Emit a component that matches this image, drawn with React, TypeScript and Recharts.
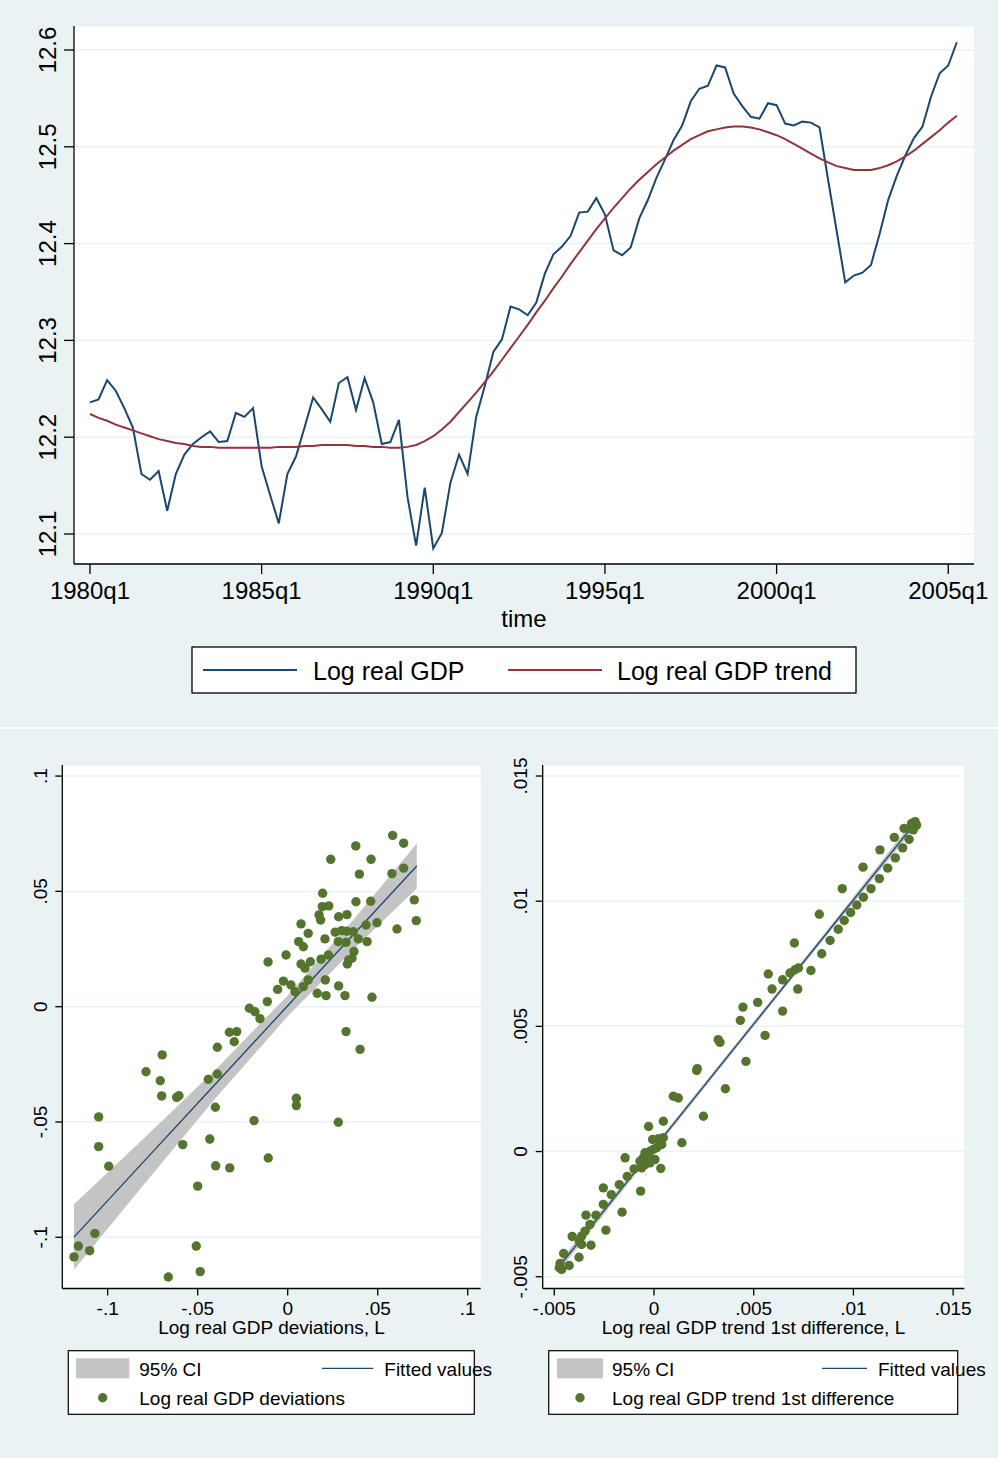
import React from 'react';
import {
  LineChart,
  ComposedChart,
  Line,
  Area,
  Scatter,
  XAxis,
  YAxis,
  CartesianGrid,
} from 'recharts';

// Stata s2color look
const BG = '#eaf2f3';
const NAVY = '#1a476f';
const MAROON = '#90353b';
const GREEN = '#55752f';
const CI_GREY = '#c4c4c4';
const FONT = '"Liberation Sans", Arial, Helvetica, sans-serif';

// ---- top panel: log real GDP and trend, 1980q1 .. 2005q2 ----
const FIRST_YEAR = 1980;

const LOG_GDP = [
  12.236, 12.239, 12.259, 12.248, 12.23, 12.21, 12.162, 12.156, 12.165, 12.124,
  12.162, 12.182, 12.193, 12.2, 12.206, 12.195, 12.196, 12.225, 12.221, 12.23,
  12.17, 12.14, 12.111, 12.162, 12.18, 12.21, 12.241, 12.229, 12.216, 12.256,
  12.262, 12.228, 12.261, 12.236, 12.193, 12.195, 12.218, 12.138, 12.088, 12.148,
  12.085, 12.101, 12.153, 12.182, 12.162, 12.221, 12.253, 12.288, 12.301, 12.335,
  12.332, 12.326, 12.339, 12.369, 12.389, 12.397, 12.408, 12.432, 12.433, 12.447,
  12.43, 12.393, 12.388, 12.396, 12.426, 12.445, 12.468, 12.487, 12.507, 12.522,
  12.547, 12.56, 12.563, 12.584, 12.582, 12.555, 12.542, 12.531, 12.529, 12.545,
  12.543, 12.524, 12.522, 12.526, 12.525, 12.52, 12.466, 12.413, 12.36, 12.367,
  12.37, 12.378, 12.41, 12.445, 12.47, 12.491, 12.509, 12.521, 12.552, 12.576,
  12.584, 12.608,
];

const LOG_GDP_TREND = [
  12.224, 12.22, 12.217, 12.213, 12.21, 12.207, 12.204, 12.201, 12.198, 12.196,
  12.194, 12.193, 12.191, 12.19, 12.19, 12.189, 12.189, 12.189, 12.189, 12.189,
  12.189, 12.189, 12.19, 12.19, 12.19, 12.191, 12.191, 12.192, 12.192, 12.192,
  12.192, 12.191, 12.191, 12.19, 12.19, 12.189, 12.189, 12.19, 12.192, 12.196,
  12.201, 12.208, 12.216, 12.226, 12.236, 12.246, 12.257, 12.268, 12.28, 12.292,
  12.304, 12.316, 12.329, 12.341, 12.354, 12.366, 12.379, 12.391, 12.403, 12.415,
  12.426, 12.437, 12.447, 12.457, 12.466, 12.474, 12.482, 12.489, 12.496, 12.502,
  12.508, 12.512, 12.516, 12.518, 12.52, 12.521, 12.521, 12.52, 12.518, 12.515,
  12.512, 12.508, 12.503, 12.498, 12.493, 12.488, 12.484, 12.48, 12.478, 12.476,
  12.476, 12.476, 12.478, 12.481, 12.485, 12.49, 12.496, 12.503, 12.51, 12.517,
  12.525, 12.532,
];

const TIME_TICKS = [0, 20, 40, 60, 80, 100];
const TIME_TICK_LABELS = ['1980q1', '1985q1', '1990q1', '1995q1', '2000q1', '2005q1'];
const GDP_TICKS = [12.1, 12.2, 12.3, 12.4, 12.5, 12.6];
const GDP_TICK_LABELS = ['12.1', '12.2', '12.3', '12.4', '12.5', '12.6'];

// ---- bottom left: deviations vs lagged deviations ----
const DEV_LAG = [
  0.0583, 0.0644, 0.0378, 0.0239, 0.0463, 0.0398, 0.0579, 0.0644, 0.0194, 0.0703,
  0.0379, 0.0461, 0.0192, 0.0228, 0.0174, 0.0183, 0.0283, 0.0329, 0.0714, 0.0074,
  0.0435, 0.0496, 0.0607, 0.0114, 0.0264, 0.03, 0.0328, 0.0364, 0.0207, 0.0281,
  0.0324, 0.0392, 0.0441, 0.0061, 0.0087, -0.0009, 0.0226, 0.0368, 0.0185, 0.0357,
  0.0339, 0.0331, -0.0109, 0.0074, 0.0126, 0.0096, 0.0114, 0.0209, -0.0024, 0.0018,
  0.0087, -0.0056, 0.0041, 0.0283, 0.0164, 0.0213, 0.0318, 0.0468, -0.0113, -0.0213,
  -0.0182, -0.0154, 0.0324, 0.0402, -0.0324, -0.0283, -0.0297, -0.0391, -0.0697, -0.0787,
  -0.0708, -0.0391, -0.0441, -0.07, -0.0617, -0.0604, -0.0402, -0.0187, -0.105, -0.105,
  -0.0583, -0.0433, -0.0994, -0.04, -0.0322, -0.05, -0.1071, -0.1163, -0.11, -0.1187,
  -0.0508, -0.0486, -0.0663, 0.0048, 0.0048, 0.0281, -0.0108,
];
const DEV = [
  0.0743, 0.0709, 0.0697, 0.0639, 0.0639, 0.0575, 0.0577, 0.0601, 0.0492, 0.0463,
  0.0455, 0.0457, 0.0434, 0.0437, 0.0398, 0.0376, 0.039, 0.0399, 0.0373, 0.0359,
  0.0354, 0.0364, 0.0337, 0.0318, 0.0323, 0.033, 0.0327, 0.0325, 0.0294, 0.0282,
  0.0279, 0.0294, 0.0282, 0.0282, 0.026, 0.0224, 0.0224, 0.0239, 0.0206, 0.021,
  0.0203, 0.0185, 0.0194, 0.0185, 0.0195, 0.0167, 0.0116, 0.0116, 0.0111, 0.0094,
  0.0087, 0.0075, 0.0065, 0.009, 0.0058, 0.0048, 0.0048, 0.0041, 0.0022, -0.0007,
  -0.0022, -0.0052, -0.0108, -0.0185, -0.0111, -0.0108, -0.0152, -0.0176, -0.0209, -0.0282,
  -0.0321, -0.0292, -0.0315, -0.0387, -0.0393, -0.0386, -0.0436, -0.0494, -0.0478, -0.0607,
  -0.0598, -0.0574, -0.0692, -0.069, -0.0699, -0.0778, -0.0983, -0.1038, -0.1058, -0.1085,
  -0.1038, -0.1149, -0.1172, -0.0397, -0.0429, -0.0501, -0.0656,
];
const DEV_FIT_X = [-0.1187, -0.08, -0.04, 0, 0.04, 0.0717];
const DEV_FIT = [-0.0999, -0.0672, -0.0334, 0.0004, 0.0342, 0.061];
const DEV_CI_LOW = [-0.1141, -0.0772, -0.0396, -0.0041, 0.0275, 0.0512];
const DEV_CI_HIGH = [-0.0857, -0.0572, -0.0272, 0.0049, 0.0409, 0.0708];
const DEV_TICKS = [-0.1, -0.05, 0, 0.05, 0.1];
const DEV_TICK_LABELS = ['-.1', '-.05', '0', '.05', '.1'];

// ---- bottom right: trend 1st difference vs its lag ----
const DIFF_LAG = [
  0.01309, 0.01292, 0.01317, 0.013, 0.01284, 0.01254, 0.01205, 0.01279, 0.01247, 0.01133,
  0.0121, 0.01048, 0.01172, 0.0113, 0.00944, 0.01088, 0.0105, 0.01017, 0.00829, 0.00986,
  0.00954, 0.00924, 0.00883, 0.00704, 0.00841, 0.00787, 0.00724, 0.00707, 0.00682, 0.00573,
  0.00645, 0.00592, 0.00721, 0.0052, 0.00446, 0.00645, 0.00433, 0.00557, 0.00322, 0.00331,
  0.00461, 0.00217, 0.00214, 0.00358, 0.00097, 0.00122, 0.00248, 0.00047, -0.00027, 0.0014,
  0.00047, -0.00007, 0.00022, 0.00039, 0.00014, -0.00004, -0.0002, -0.00045, -0.00029, -0.00054,
  -0.0007, -0.00045, -0.00062, -0.0002, 0.00005, 0.00034, -0.00145, -0.001, -0.00134, -0.00174,
  -0.00254, -0.00214, -0.00067, -0.00254, -0.0016, -0.00341, -0.00291, -0.00321, -0.00346, -0.00363,
  -0.00375, -0.00363, -0.0041, -0.00241, -0.00316, -0.00453, -0.00376, -0.00471, -0.00425, -0.00463,
  -0.00475,
];
const DIFF = [
  0.01318, 0.01311, 0.01304, 0.01285, 0.01291, 0.01291, 0.01255, 0.01247, 0.01213, 0.01205,
  0.01173, 0.01136, 0.01132, 0.0109, 0.0105, 0.0105, 0.01016, 0.00985, 0.00948, 0.00955,
  0.00923, 0.00888, 0.00843, 0.00833, 0.0079, 0.00723, 0.00733, 0.00726, 0.00713, 0.00709,
  0.00686, 0.00649, 0.00649, 0.00596, 0.00577, 0.00561, 0.00524, 0.00464, 0.00447, 0.00436,
  0.0036, 0.00331, 0.00324, 0.00251, 0.00221, 0.00214, 0.00141, 0.00121, 0.001, 0.00035,
  0.00055, 0.00048, 0.00051, 0.00028, 0.00015, 0.00008, 0.00001, -0.00005, -0.00019, -0.00025,
  -0.00039, -0.00052, -0.00065, -0.00045, -0.00032, -0.00067, -0.00025, -0.00069, -0.00099, -0.00132,
  -0.00145, -0.00172, -0.00158, -0.00211, -0.00242, -0.00254, -0.00254, -0.00291, -0.00318, -0.00338,
  -0.00358, -0.00371, -0.00339, -0.00314, -0.00374, -0.00407, -0.00422, -0.00447, -0.00455, -0.00471,
  -0.00464,
];
const DIFF_FIT_X = [-0.00475, 0, 0.004, 0.009, 0.01317];
const DIFF_FIT = [-0.00458, 0.00013, 0.0041, 0.00906, 0.0132];
const DIFF_CI_LOW = [-0.00476, 0.00002, 0.004, 0.00895, 0.01302];
const DIFF_CI_HIGH = [-0.0044, 0.00024, 0.0042, 0.00917, 0.01338];
const DIFF_TICKS = [-0.005, 0, 0.005, 0.01, 0.015];
const DIFF_TICK_LABELS = ['-.005', '0', '.005', '.01', '.015'];

const quarterLabel = (i: number) => `${FIRST_YEAR + Math.floor(i / 4)}q${(i % 4) + 1}`;

const gdpData = LOG_GDP.map((v, i) => ({
  t: i,
  quarter: quarterLabel(i),
  gdp: v,
  trend: LOG_GDP_TREND[i],
}));

const labelFor = (ticks: number[], labels: string[], value: number) => {
  const i = ticks.findIndex((t) => Math.abs(t - value) < 1e-9);
  return i >= 0 ? labels[i] : String(value);
};

// y tick labels are written vertically, like Stata does
function RotatedTick(props: any) {
  const { y, payload, baseX, ticks, labels, fontSize } = props;
  return (
    <text
      x={baseX}
      y={y}
      transform={`rotate(-90 ${baseX} ${y})`}
      textAnchor="middle"
      fontSize={fontSize}
      fontFamily={FONT}
      fill="#000"
    >
      {labelFor(ticks, labels, payload.value)}
    </text>
  );
}

function BottomTick(props: any) {
  const { x, payload, baseY, ticks, labels, fontSize } = props;
  return (
    <text x={x} y={baseY} textAnchor="middle" fontSize={fontSize} fontFamily={FONT} fill="#000">
      {labelFor(ticks, labels, payload.value)}
    </text>
  );
}

const axisStroke = { stroke: '#000', strokeWidth: 1.3 };

interface ScatterPanelProps {
  xs: number[];
  ys: number[];
  fitX: number[];
  fit: number[];
  ciLow: number[];
  ciHigh: number[];
  ticks: number[];
  tickLabels: string[];
  xDomain: [number, number];
  yDomain: [number, number];
  width: number;
  yAxisWidth: number;
  marginRight: number;
  labelBaseX: number;
}

function ScatterPanel(p: ScatterPanelProps) {
  const points = p.xs.map((x, i) => ({ x, y: p.ys[i] }));
  const fitData = p.fitX.map((x, i) => ({ x, y: p.fit[i] }));
  const bandData = p.fitX.map((x, i) => ({ x, band: [p.ciLow[i], p.ciHigh[i]] }));
  return (
    <ComposedChart
      width={p.width}
      height={620}
      margin={{ top: 25, right: p.marginRight, left: 0, bottom: 11.5 }}
    >
      <CartesianGrid vertical={false} fill="#fff" stroke={BG} strokeWidth={1.5} />
      <XAxis
        dataKey="x"
        type="number"
        domain={p.xDomain}
        ticks={p.ticks}
        interval={0}
        height={60}
        tickSize={7}
        axisLine={axisStroke}
        tickLine={axisStroke}
        tick={(t: any) => (
          <BottomTick {...t} baseY={575} ticks={p.ticks} labels={p.tickLabels} fontSize={19} />
        )}
      />
      <YAxis
        dataKey="y"
        type="number"
        domain={p.yDomain}
        ticks={p.ticks}
        interval={0}
        width={p.yAxisWidth}
        tickSize={7}
        axisLine={axisStroke}
        tickLine={axisStroke}
        tick={(t: any) => (
          <RotatedTick {...t} baseX={p.labelBaseX} ticks={p.ticks} labels={p.tickLabels} fontSize={19} />
        )}
      />
      <Area
        data={bandData}
        dataKey="band"
        type="linear"
        stroke="none"
        fill={CI_GREY}
        fillOpacity={1}
        isAnimationActive={false}
      />
      <Line
        data={fitData}
        dataKey="y"
        type="linear"
        stroke={NAVY}
        strokeWidth={1.3}
        dot={false}
        isAnimationActive={false}
      />
      <Scatter
        data={points}
        fill={GREEN}
        isAnimationActive={false}
        shape={(s: any) => <circle cx={s.cx} cy={s.cy} r={4.7} fill={GREEN} />}
      />
    </ComposedChart>
  );
}

export default function App() {
  return (
    <div
      style={{
        position: 'absolute',
        left: 0,
        top: 0,
        width: 998,
        height: 1458,
        background: BG,
        overflow: 'hidden',
        fontFamily: FONT,
      }}
    >
      <div style={{ position: 'absolute', left: 0, top: 0 }}>
        <LineChart
          width={998}
          height={728}
          data={gdpData}
          margin={{ top: 26, right: 24, left: 0, bottom: 94 }}
        >
          <CartesianGrid vertical={false} fill="#fff" stroke={BG} strokeWidth={1.5} />
          <XAxis
            dataKey="t"
            type="number"
            domain={[-1.86, 103.0]}
            ticks={TIME_TICKS}
            interval={0}
            height={70}
            tickSize={10}
            axisLine={axisStroke}
            tickLine={axisStroke}
            tick={(t: any) => (
              <BottomTick {...t} baseY={599} ticks={TIME_TICKS} labels={TIME_TICK_LABELS} fontSize={24} />
            )}
          />
          <YAxis
            type="number"
            domain={[12.069, 12.6248]}
            ticks={GDP_TICKS}
            interval={0}
            width={74}
            tickSize={10}
            axisLine={axisStroke}
            tickLine={axisStroke}
            tick={(t: any) => (
              <RotatedTick {...t} baseX={56} ticks={GDP_TICKS} labels={GDP_TICK_LABELS} fontSize={24} />
            )}
          />
          <Line
            dataKey="gdp"
            name="Log real GDP"
            type="linear"
            stroke={NAVY}
            strokeWidth={2}
            dot={false}
            isAnimationActive={false}
          />
          <Line
            dataKey="trend"
            name="Log real GDP trend"
            type="linear"
            stroke={MAROON}
            strokeWidth={2}
            dot={false}
            isAnimationActive={false}
          />
        </LineChart>
      </div>

      <div style={{ position: 'absolute', left: 0, top: 727, width: 998, height: 2, background: '#fff' }} />

      <div style={{ position: 'absolute', left: 0, top: 740 }}>
        <ScatterPanel
          xs={DEV_LAG}
          ys={DEV}
          fitX={DEV_FIT_X}
          fit={DEV_FIT}
          ciLow={DEV_CI_LOW}
          ciHigh={DEV_CI_HIGH}
          ticks={DEV_TICKS}
          tickLabels={DEV_TICK_LABELS}
          xDomain={[-0.1252, 0.1072]}
          yDomain={[-0.1222, 0.1048]}
          width={490}
          yAxisWidth={62.3}
          marginRight={9.3}
          labelBaseX={47}
        />
      </div>
      <div style={{ position: 'absolute', left: 490, top: 740 }}>
        <ScatterPanel
          xs={DIFF_LAG}
          ys={DIFF}
          fitX={DIFF_FIT_X}
          fit={DIFF_FIT}
          ciLow={DIFF_CI_LOW}
          ciHigh={DIFF_CI_HIGH}
          ticks={DIFF_TICKS}
          tickLabels={DIFF_TICK_LABELS}
          xDomain={[-0.00558, 0.01556]}
          yDomain={[-0.00547, 0.01544]}
          width={490}
          yAxisWidth={52.7}
          marginRight={15.7}
          labelBaseX={37.4}
        />
      </div>

      {/* axis titles and legends */}
      <svg
        width={998}
        height={1458}
        style={{ position: 'absolute', left: 0, top: 0, pointerEvents: 'none' }}
        fontFamily={FONT}
      >
        <text x={524} y={627} textAnchor="middle" fontSize={24}>time</text>
        <rect x={192} y={647} width={664} height={46} fill="#fff" stroke="#000" strokeWidth={1.3} />
        <line x1={203} y1={670} x2={297} y2={670} stroke={NAVY} strokeWidth={2} />
        <text x={313} y={679.5} fontSize={25}>Log real GDP</text>
        <line x1={508} y1={670} x2={602} y2={670} stroke={MAROON} strokeWidth={2} />
        <text x={617} y={679.5} fontSize={25}>Log real GDP trend</text>

        <text x={271.5} y={1334} textAnchor="middle" fontSize={19}>Log real GDP deviations, L</text>
        <rect x={68.3} y={1350.7} width={406} height={63.6} fill="#fff" stroke="#000" strokeWidth={1.2} />
        <rect x={76} y={1358.3} width={53.3} height={20} fill={CI_GREY} />
        <text x={139.3} y={1376} fontSize={19}>95% CI</text>
        <line x1={322} y1={1368.3} x2={373.3} y2={1368.3} stroke={NAVY} strokeWidth={1.3} />
        <text x={384.3} y={1376} fontSize={19}>Fitted values</text>
        <circle cx={102.7} cy={1397.7} r={4.7} fill={GREEN} />
        <text x={139.3} y={1405} fontSize={19}>Log real GDP deviations</text>

        <text x={753.5} y={1334} textAnchor="middle" fontSize={19}>Log real GDP trend 1st difference, L</text>
        <rect x={548.7} y={1350.7} width={409} height={63.6} fill="#fff" stroke="#000" strokeWidth={1.2} />
        <rect x={557} y={1358.3} width={46} height={20} fill={CI_GREY} />
        <text x={612} y={1376} fontSize={19}>95% CI</text>
        <line x1={822} y1={1368.3} x2={867} y2={1368.3} stroke={NAVY} strokeWidth={1.3} />
        <text x={878} y={1376} fontSize={19}>Fitted values</text>
        <circle cx={580} cy={1397.7} r={4.7} fill={GREEN} />
        <text x={612} y={1405} fontSize={19}>Log real GDP trend 1st difference</text>
      </svg>
    </div>
  );
}
